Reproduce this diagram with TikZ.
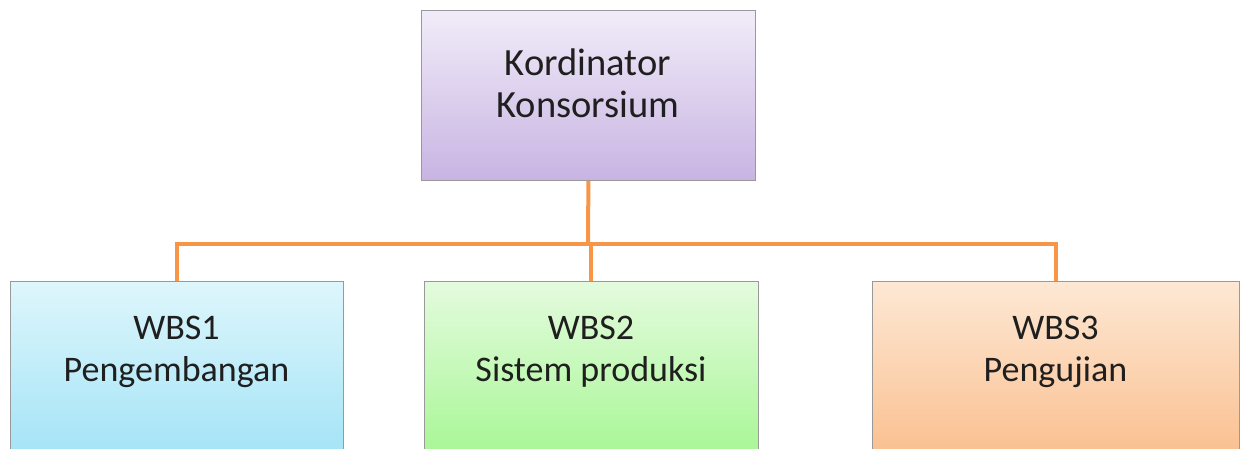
\documentclass[tikz,border=0pt]{standalone}
\usepackage{fontspec}
\setmainfont{Carlito}
\begin{document}
\begin{tikzpicture}[x=1pt,y=-1pt,
  box/.style={draw=black!40, line width=0.8pt, rectangle, anchor=north west, inner sep=0pt},
  lbl/.style={align=center, text=black!88, inner sep=0pt},
  link/.style={draw=linkorange, line width=4pt}]
\definecolor{linkorange}{RGB}{247,150,70}
\useasboundingbox (0,0) rectangle (1241,448);
\clip (0,0) rectangle (1241,448);
% boxes
\node[box, minimum width=334pt, minimum height=170pt,
      top color={rgb,255:red,241;green,236;blue,249},
      bottom color={rgb,255:red,200;green,180;blue,226}] (top) at (421,10) {};
\node[box, minimum width=333pt, minimum height=190pt,
      top color={rgb,255:red,222;green,246;blue,252},
      bottom color={rgb,255:red,158;green,226;blue,246}] (w1) at (10,281) {};
\node[box, minimum width=334pt, minimum height=190pt,
      top color={rgb,255:red,228;green,251;blue,222},
      bottom color={rgb,255:red,162;green,246;blue,142}] (w2) at (424,281) {};
\node[box, minimum width=367pt, minimum height=190pt,
      top color={rgb,255:red,253;green,232;blue,212},
      bottom color={rgb,255:red,250;green,188;blue,138}] (w3) at (872,281) {};
% labels
\node[lbl, font=\fontsize{38.5}{42}\selectfont] (t0) at (588,83) {Kordinator\\Konsorsium};
\node[lbl, font=\fontsize{36}{42}\selectfont] (t1) at (176.5,352) {WBS1\\Pengembangan};
\node[lbl, font=\fontsize{36}{42}\selectfont] (t2) at (591,352) {WBS2\\Sistem produksi};
\node[lbl, font=\fontsize{36}{42}\selectfont] (t3) at (1055.5,352) {WBS3\\Pengujian};
% connectors
\coordinate (bus) at (588,244);
\draw[link] (top.south) -- (bus);
\draw[link] (bus) -| (w1.north);
\draw[link] (bus) -| (w2.north);
\draw[link] (bus) -| (w3.north);
\end{tikzpicture}
\end{document}
